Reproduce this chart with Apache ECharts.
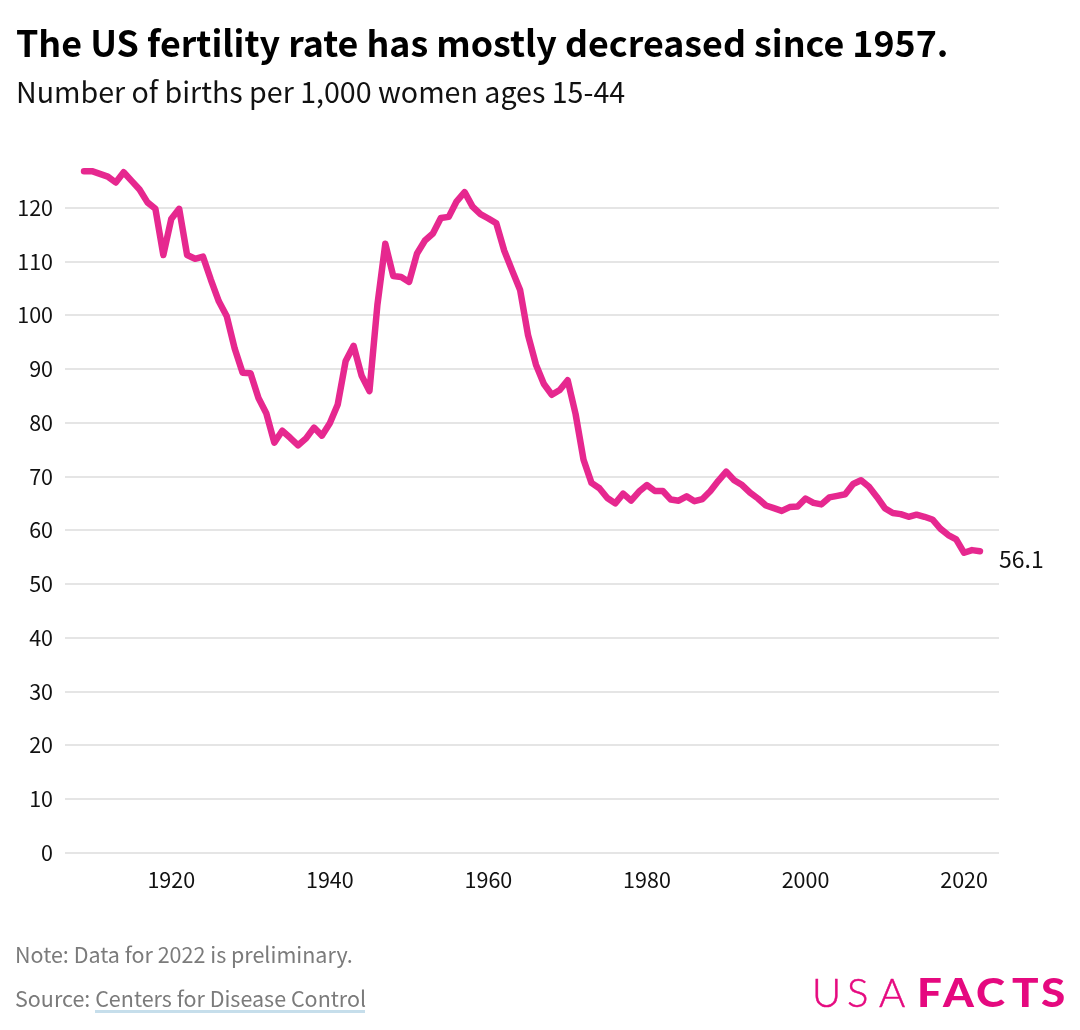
<!DOCTYPE html>
<html>
<head>
<meta charset="utf-8">
<style>html,body{margin:0;padding:0;background:#fff}#c{width:1080px;height:1030px}</style>
<script src="https://cdn.jsdelivr.net/npm/echarts@6/dist/echarts.min.js"></script>
</head>
<body>
<div id="c"></div>
<script>
const years = [1909,1910,1911,1912,1913,1914,1915,1916,1917,1918,1919,
1920,1921,1922,1923,1924,1925,1926,1927,1928,1929,
1930,1931,1932,1933,1934,1935,1936,1937,1938,1939,
1940,1941,1942,1943,1944,1945,1946,1947,1948,1949,
1950,1951,1952,1953,1954,1955,1956,1957,1958,1959,
1960,1961,1962,1963,1964,1965,1966,1967,1968,1969,
1970,1971,1972,1973,1974,1975,1976,1977,1978,1979,
1980,1981,1982,1983,1984,1985,1986,1987,1988,1989,
1990,1991,1992,1993,1994,1995,1996,1997,1998,1999,
2000,2001,2002,2003,2004,2005,2006,2007,2008,2009,
2010,2011,2012,2013,2014,2015,2016,2017,2018,2019,
2020,2021,2022];
const fertility = [126.8,126.8,126.3,125.8,124.7,126.6,125.0,123.4,121.0,119.8,111.2,
117.9,119.8,111.2,110.5,110.9,106.6,102.6,99.8,93.8,89.3,
89.2,84.6,81.7,76.3,78.5,77.2,75.8,77.1,79.1,77.6,
79.9,83.4,91.5,94.3,88.8,85.9,101.9,113.3,107.3,107.1,
106.2,111.5,113.9,115.2,118.1,118.3,121.2,122.9,120.2,118.8,
118.0,117.1,112.0,108.3,104.7,96.3,90.8,87.2,85.2,86.1,
87.9,81.6,73.1,68.8,67.8,66.0,65.0,66.8,65.5,67.2,
68.4,67.3,67.3,65.7,65.5,66.3,65.4,65.8,67.3,69.2,
70.9,69.3,68.4,67.0,65.9,64.6,64.1,63.6,64.3,64.4,
65.9,65.1,64.8,66.1,66.4,66.7,68.6,69.3,68.1,66.2,
64.1,63.2,63.0,62.5,62.9,62.5,62.0,60.3,59.1,58.3,
55.8,56.3,56.1];
const yTicks = [0,10,20,30,40,50,60,70,80,90,100,110,120];
const xTicks = [1920,1940,1960,1980,2000,2020];
const titleText = 'The US fertility rate has mostly decreased since 1957.';
const subtitleText = 'Number of births per 1,000 women ages 15-44';
const noteText = 'Note: Data for 2022 is preliminary.';
const sourcePrefix = 'Source: ';
const sourceLink = 'Centers for Disease Control';
const logoLight = [['U',812],['S',847],['A',879]];
const logoHeavy = [['F',917],['A',943],['C',976],['T',1012],['S',1041]];

const FONT = '"Noto Sans CJK SC","Noto Sans",sans-serif';
const LOGO = '#e5097f';
const chart = echarts.init(document.getElementById('c'), null, {renderer:'canvas'});

const graphics = [
  {type:'text',x:16,y:43,style:{text:titleText,font:'700 35.8px '+FONT,fill:'#000',verticalAlign:'middle'}},
  {type:'text',x:16,y:92,style:{text:subtitleText,font:'400 28.6px '+FONT,fill:'#111',verticalAlign:'middle'}},
  {type:'text',x:15,y:955,style:{text:noteText,font:'400 21.5px '+FONT,fill:'#7b7b7b',verticalAlign:'middle'}},
  {type:'text',x:15,y:999,style:{text:sourcePrefix+sourceLink,font:'400 21.5px '+FONT,fill:'#7b7b7b',verticalAlign:'middle'}},
  {type:'rect',shape:{x:95,y:1010,width:270,height:3},style:{fill:'#c6deeb'}}
];
logoLight.forEach(l=>graphics.push({type:'text',x:l[1],y:994,style:{text:l[0],font:'300 40px Lato',fill:LOGO,stroke:LOGO,lineWidth:0.5,verticalAlign:'middle'}}));
logoHeavy.forEach(l=>graphics.push({type:'text',x:l[1],y:994,scaleX:1.1,style:{text:l[0],font:'900 40px Lato',fill:LOGO,verticalAlign:'middle'}}));

chart.setOption({
  animation:false,
  backgroundColor:'#fff',
  textStyle:{fontFamily:FONT},
  grid:{left:65,right:81,top:154,height:698.7,containLabel:false},
  xAxis:{
    type:'value',min:1906.6,max:2024.4,
    axisLine:{show:false},axisTick:{show:false,customValues:xTicks},splitLine:{show:false},
    axisLabel:{customValues:xTicks,formatter:v=>String(v),color:'#111',fontSize:21.5,margin:16,fontFamily:FONT}
  },
  yAxis:{
    type:'value',min:0,max:130,
    axisLine:{show:false},axisTick:{show:false,customValues:yTicks},
    splitLine:{show:true,lineStyle:{color:'#dcdcdc',width:1.6}},
    axisLabel:{customValues:yTicks,color:'#111',fontSize:21.5,margin:12,fontFamily:FONT}
  },
  series:[{
    type:'line',
    data:years.map((y,i)=>[y,fertility[i]]),
    showSymbol:false,symbol:'none',
    lineStyle:{color:'#e6288f',width:6.5,join:'round',cap:'round'},
    endLabel:{show:true,formatter:p=>String(p.value[1]),color:'#111',fontSize:23,fontFamily:FONT,offset:[11,8]},
    emphasis:{disabled:true},
    clip:false
  }],
  graphic:graphics
});
</script>
</body>
</html>
